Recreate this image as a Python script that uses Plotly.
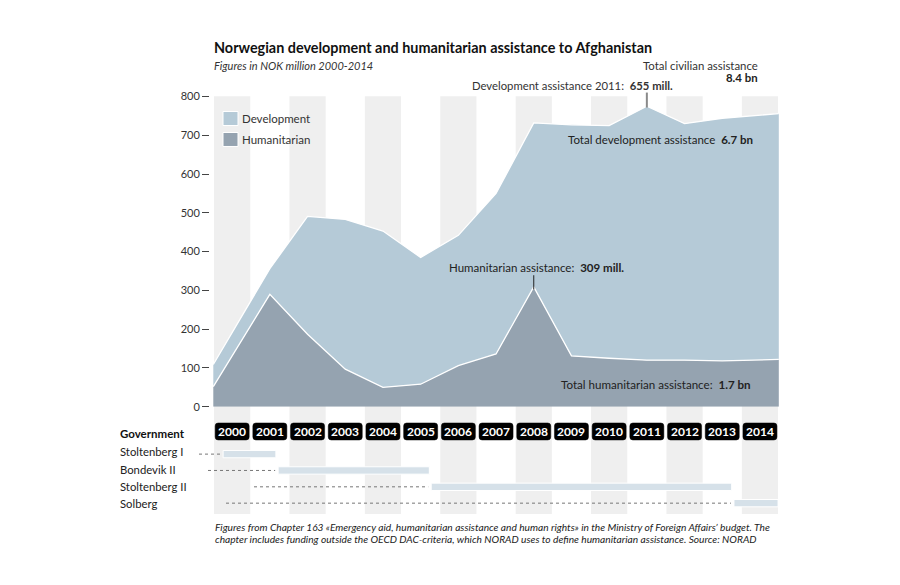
import plotly.graph_objects as go

# ---------------- data ----------------
years = list(range(2000, 2015))
humanitarian = [52, 290, 187, 97, 50, 58, 106, 136, 309, 131, 125, 120, 120, 118, 122]
development = [57, 66, 304, 386, 403, 327, 336, 414, 423, 596, 600, 655, 610, 626, 634]

y_ticks = [0, 100, 200, 300, 400, 500, 600, 700, 800]

governments = ["Stoltenberg I", "Bondevik II", "Stoltenberg II", "Solberg"]
gov_start = [2000.26, 2001.72, 2005.78, 2013.81]
gov_end = [2001.66, 2005.73, 2013.75, 2014.98]

# ---------------- layout helpers ----------------
W, H = 900, 585
OFF_X = 8        # page body margin (horizontal)
TOP_Y = 14.3     # where the figure's paper top lands in the screenshot
H_EFF = 573.0    # effective paper height in the screenshot
FONT = "Lato"
DEV_C = "#b5cad7"
HUM_C = "#95a3b0"


def px(p):
    return (p - OFF_X) / W


def py(p):
    return 1 - (p - TOP_Y) / H_EFF


# x axis: each year is a column one unit wide, centred on the year
col_w = 37.7
x_left_px, x_right_px = 210, 780
edge_px = 213.3  # left edge of the 2000 column
x_range = [1999.5 - (edge_px - x_left_px) / col_w,
           1999.5 + (x_right_px - edge_px) / col_w]


def axis_to_px(v):
    return edge_px + (v - (years[0] - 0.5)) * col_w


# first / last value drawn at the outer column edges
x_plot = [y - 0.5 if i == 0 else (y + 0.5 if i == len(years) - 1 else y)
          for i, y in enumerate(years)]

fig = go.Figure()

fig.add_trace(go.Scatter(
    x=x_plot, y=humanitarian, stackgroup="one", mode="lines",
    line=dict(color="white", width=1.3), fillcolor=HUM_C,
    name="Humanitarian", hoverinfo="skip", showlegend=False))
fig.add_trace(go.Scatter(
    x=x_plot, y=development, stackgroup="one", mode="lines",
    line=dict(color="white", width=1.3), fillcolor=DEV_C,
    name="Development", hoverinfo="skip", showlegend=False))

# government bars (fractional year -> column axis coordinate: minus 0.5)
fig.add_trace(go.Bar(
    y=governments, x=[e - s for s, e in zip(gov_start, gov_end)],
    base=[s - 0.5 for s in gov_start], orientation="h",
    marker=dict(color="#d6e1e9", line=dict(color="white", width=1)),
    width=0.45, xaxis="x", yaxis="y2", hoverinfo="skip", showlegend=False))

shapes = []
# alternating year columns
for y in years:
    if (y - years[0]) % 2 == 0:
        shapes.append(dict(type="rect", xref="x", yref="paper",
                           x0=y - 0.5, x1=y + 0.5, y0=py(515), y1=py(95),
                           fillcolor="#efefef", line=dict(color="white", width=1.5),
                           layer="below"))

# rounded black boxes behind the year labels
rx = 3 / col_w
ry = 3 / H_EFF
for y in years:
    x0, x1 = y - 0.451, y + 0.451
    b, t = py(440), py(423)
    path = (f"M {x0 + rx},{t} L {x1 - rx},{t} Q {x1},{t} {x1},{t - ry} "
            f"L {x1},{b + ry} Q {x1},{b} {x1 - rx},{b} L {x0 + rx},{b} "
            f"Q {x0},{b} {x0},{b + ry} L {x0},{t - ry} Q {x0},{t} {x0 + rx},{t} Z")
    shapes.append(dict(type="path", xref="x", yref="paper", path=path,
                       fillcolor="black", line=dict(color="black", width=0.5)))

# dotted leaders for government rows
leader_start_px = [199, 208, 254, 226]
for i, (g, s) in enumerate(zip(governments, gov_start)):
    shapes.append(dict(type="line", xref="paper", yref="y2",
                       x0=px(leader_start_px[i]), x1=px(axis_to_px(s - 0.5) - 3),
                       y0=i, y1=i, line=dict(color="#777", width=1, dash="dot")))

# annotation leader lines
i11 = years.index(2011)
i08 = years.index(2008)
shapes.append(dict(type="line", xref="x", yref="paper", x0=years[i11], x1=years[i11],
                   y0=py(92), y1=py(107), line=dict(color="#8a8a8a", width=2)))
shapes.append(dict(type="line", xref="x", yref="paper", x0=years[i08], x1=years[i08],
                   y0=py(275), y1=py(289), line=dict(color="#222", width=1)))

# legend swatches
shapes.append(dict(type="rect", xref="paper", yref="paper", x0=px(223), x1=px(238),
                   y0=py(125), y1=py(111), fillcolor=DEV_C, line=dict(color="white", width=1)))
shapes.append(dict(type="rect", xref="paper", yref="paper", x0=px(223), x1=px(238),
                   y0=py(146), y1=py(132), fillcolor=HUM_C, line=dict(color="white", width=1)))

ann = []


def text(x, y, t, size=12, color="#222", xanchor="left", yanchor="middle", **kw):
    ann.append(dict(x=px(x), y=py(y), xref="paper", yref="paper", text=t,
                    showarrow=False, xanchor=xanchor, yanchor=yanchor,
                    font=dict(family=FONT, size=size, color=color), **kw))


text(212, 47, "<b>Norwegian development and humanitarian assistance to Afghanistan</b>", size=14.4, color="#111")
text(212, 65, "<i>Figures in NOK million 2000-2014</i>", size=11, color="#333")
text(760, 65, "Total civilian assistance", size=11.4, color="#333", xanchor="right")
text(760, 77, "<b>8.4 bn</b>", size=11.4, color="#222", xanchor="right")
text(675, 85, f"Development assistance {years[i11]}:  <b>{development[i11]} mill.</b>", size=11.3, color="#333", xanchor="right")
text(755, 139, "Total development assistance  <b>6.7 bn</b>", size=11.5, color="#222", xanchor="right")
text(536, 267, f"Humanitarian assistance:  <b>{humanitarian[i08]} mill.</b>", size=11.5, color="#222", xanchor="center")
text(753, 384, "Total humanitarian assistance:  <b>1.7 bn</b>", size=11.6, color="#222", xanchor="right")

text(240, 118, "Development", size=11.5, color="#333")
text(240, 139, "Humanitarian", size=11.5, color="#333")

text(118, 434, "<b>Government</b>", size=11.5, color="#111")
gov_y = [452, 470, 486.5, 503.5]
for g, gy in zip(governments, gov_y):
    text(118, gy, g, size=11.3, color="#222")

# year labels
for y in years:
    ann.append(dict(x=y, y=py(431.5), xref="x", yref="paper", text=f"<b>{y}</b>",
                    showarrow=False, xanchor="center", yanchor="middle",
                    font=dict(family=FONT, size=12, color="white")))

text(213, 527, "<i>Figures from Chapter 163 «Emergency aid, humanitarian assistance and human rights» in the Ministry of Foreign Affairs’ budget. The</i>", size=10.2, color="#222")
text(213, 539, "<i>chapter includes funding outside the OECD DAC-criteria, which NORAD uses to define humanitarian assistance. Source: NORAD</i>", size=10.2, color="#222")

fig.update_layout(
    width=W, height=H,
    margin=dict(l=0, r=0, t=0, b=0),
    paper_bgcolor="white", plot_bgcolor="rgba(0,0,0,0)",
    font=dict(family=FONT),
    xaxis=dict(domain=[px(x_left_px), px(x_right_px)], range=x_range,
               visible=False, fixedrange=True),
    yaxis=dict(domain=[py(406.7), py(96)], range=[0, 800], tickvals=y_ticks,
               ticks="outside", ticklen=7, tickcolor="#444", tickwidth=1,
               showgrid=False, zeroline=False, showline=False,
               tickfont=dict(family=FONT, size=11, color="#333")),
    yaxis2=dict(domain=[py(511.5), py(446)], range=[3.5, -0.5], visible=False,
                anchor="x", type="category", categoryorder="array",
                categoryarray=governments),
    shapes=shapes, annotations=ann, showlegend=False,
)

fig.write_html("out.html")
